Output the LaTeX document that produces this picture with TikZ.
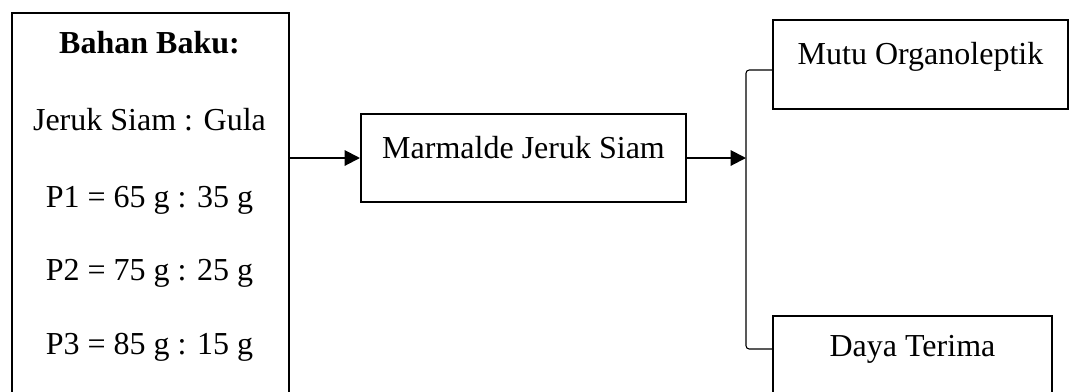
\documentclass[tikz,border=0pt]{standalone}
\usepackage{fontspec}
\setmainfont{Liberation Serif}
\usetikzlibrary{arrows.meta}
\tikzset{
  kotak/.style={draw=black, line width=0.75pt, rectangle, anchor=north west,
    align=center, text height=7pt, text depth=7pt, inner sep=0pt},
  tulisan/.style={anchor=base},
  panah/.style={line width=0.75pt, -{Triangle[length=5.8pt,width=5.8pt]}},
  cabang/.style={line width=0.4pt, rounded corners=1.2pt}
}
\begin{document}
\begin{tikzpicture}[x=0.375pt, y=-0.375pt,
    every node/.style={font=\fontsize{12pt}{14pt}\selectfont}]
    \useasboundingbox (0,0) rectangle (1069,391);
    %BAHAN BAKU:
     %kotak kiri------------------
     \node[kotak, minimum width=103.9pt, minimum height=153pt] (bahan) at (11,12) {};
     \node[tulisan, font=\fontsize{12pt}{14pt}\selectfont\bfseries] (judul) at (149.5,53) {Bahan Baku:};
     \node[tulisan] (rasio) at (149.5,130) {Jeruk Siam : Gula};
     \node[tulisan] (pa) at (149.5,207) {P1 = 65 g : 35 g};
     \node[tulisan] (pb) at (149.5,280) {P2 = 75 g : 25 g};
     \node[tulisan] (pc) at (149.5,354) {P3 = 85 g : 15 g};
     %----------------------------------
    %PRODUK:
     \node[kotak, minimum width=121.9pt, minimum height=33pt] (marmalade) at (360,113) {Marmalde Jeruk Siam};
    %HASIL:
     \node[kotak, minimum width=110.6pt, minimum height=33.4pt] (mutu) at (772,19) {Mutu Organoleptik};
     \node[kotak, minimum width=104.6pt, minimum height=30pt] (daya) at (772,315) {Daya Terima};
     %panah dan cabang------------------
     \coordinate (titik) at (746,157);
     \draw[panah] (bahan.east |- marmalade.west) -- (marmalade.west);
     \draw[panah] (marmalade.east) -- (marmalade.east -| titik);
     \draw[cabang] (mutu.west |- 0,70) -- (titik |- 0,70) -- (titik |- 0,349) -- (daya.west |- 0,349);
     %----------------------------------
\end{tikzpicture}
\end{document}
